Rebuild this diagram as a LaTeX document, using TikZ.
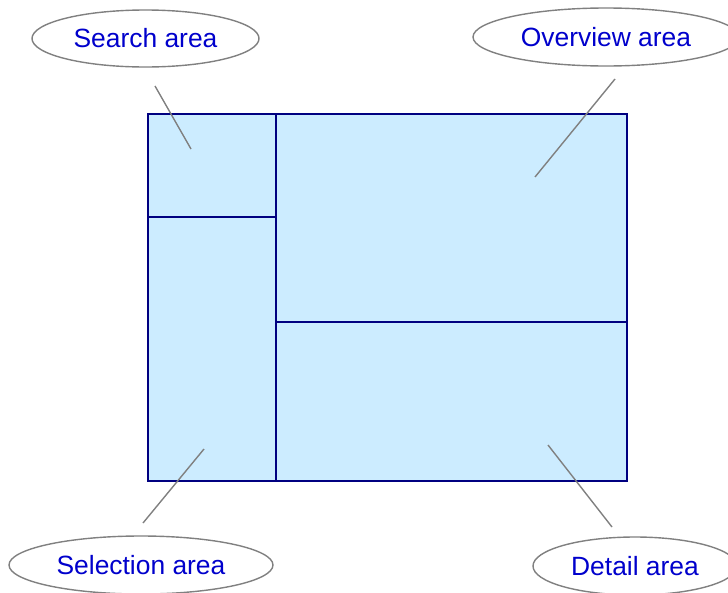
\documentclass[tikz,border=0pt]{standalone}
\usepackage{fontspec}
\setmainfont{Liberation Sans}
\usetikzlibrary{shapes.geometric}
\definecolor{bleutexte}{RGB}{0,0,204}
\definecolor{bleuclair}{RGB}{204,236,255}
\definecolor{bleunuit}{RGB}{0,0,128}
\definecolor{gristrait}{RGB}{128,128,128}
\begin{document}
\begin{tikzpicture}[x=1pt,y=-1pt]
			% Styles (MODIFIABLES)
			\tikzstyle{zone}=[fill=bleuclair,draw=bleunuit,line width=2pt]
			\tikzstyle{bulle}=[ellipse,draw=gristrait,fill=white,line width=1.4pt,inner sep=0pt,text=bleutexte,font=\fontsize{26.4}{30}\selectfont]
			\tikzstyle{trait}=[-,draw=gristrait,line width=1.4pt]
			% Dimensions (MODIFIABLES)
			\def\Gauche{148}
			\def\Milieu{276}
			\def\Droite{627}
			\def\Haut{114}
			\def\Bas{481}
			\useasboundingbox (0,0) rectangle (728,592);
			\clip (0,0) rectangle (728,592);
			% Zones
			\draw[zone] (\Gauche,\Haut) rectangle (\Milieu,217);
			\draw[zone] (\Gauche,217) rectangle (\Milieu,\Bas);
			\draw[zone] (\Milieu,\Haut) rectangle (\Droite,322);
			\draw[zone] (\Milieu,322) rectangle (\Droite,\Bas);
			% Noeuds (MODIFIABLES)
			\node[bulle,minimum width=227pt,minimum height=57pt] (Rech) at (145.5,38.5) {Search area};
			\node[bulle,minimum width=266pt,minimum height=58pt] (Vue) at (606,37) {Overview area};
			\node[bulle,minimum width=264pt,minimum height=58pt] (Sel) at (141,565) {Selection area};
			\node[bulle,minimum width=204pt,minimum height=58pt] (Det) at (635,566) {Detail area};
			% Extremites des traits
			\coordinate (Rech1) at (155,86);
			\coordinate (Rech2) at (191,149);
			\coordinate (Vue1) at (615,79);
			\coordinate (Vue2) at (535,177);
			\coordinate (Sel1) at (143,523);
			\coordinate (Sel2) at (204,449);
			\coordinate (Det1) at (612,527);
			\coordinate (Det2) at (548,445);
			% Traits (MODIFIABLES : Styles)
			\draw[trait] (Rech1)--(Rech2);
			\draw[trait] (Vue1)--(Vue2);
			\draw[trait] (Sel1)--(Sel2);
			\draw[trait] (Det1)--(Det2);
		\end{tikzpicture}
\end{document}
